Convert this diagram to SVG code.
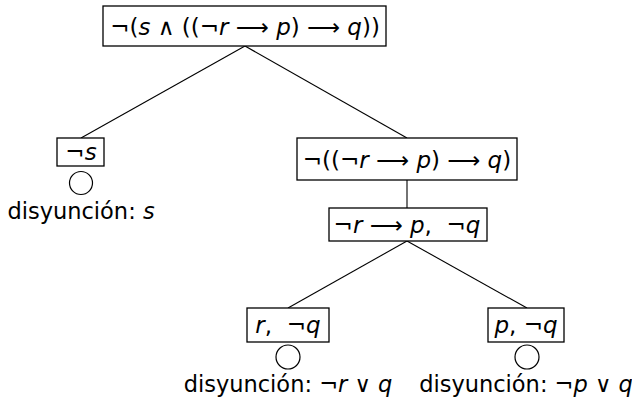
<svg xmlns="http://www.w3.org/2000/svg" width="632" height="401" viewBox="0 0 632 401">
<style>
  rect.b { fill: #fff; stroke: #000; stroke-width: 1.3; }
  .e line { stroke: #000; stroke-width: 1.1; }
  circle.c { fill: none; stroke: #000; stroke-width: 1.2; }
  text { font-family: "DejaVu Sans", sans-serif; font-size: 23px; fill: #000; text-anchor: middle; }
  text.d { font-size: 22.5px; }
  .v { font-style: italic; }
</style>
<rect width="632" height="401" fill="#fff"/>
<g id="edges" class="e">
  <line x1="245" y1="46" x2="81" y2="138"/>
  <line x1="245" y1="46" x2="407" y2="138"/>
  <line x1="407" y1="180" x2="407" y2="208"/>
  <line x1="407" y1="241" x2="288" y2="308"/>
  <line x1="407" y1="241" x2="527" y2="308"/>
</g>
<g id="n0">
  <rect class="b" x="103" y="6" width="283" height="40"/>
  <text x="245" y="35">¬(<tspan class="v">s</tspan> ∧ ((¬<tspan class="v">r</tspan> ⟶ <tspan class="v">p</tspan>) ⟶ <tspan class="v">q</tspan>))</text>
</g>
<g id="n1">
  <rect class="b" x="57" y="138" width="47" height="28"/>
  <text x="81" y="160">¬<tspan class="v">s</tspan></text>
  <circle class="c" cx="81" cy="183" r="11.5"/>
  <text class="d" x="81" y="219">disyunción: <tspan class="v">s</tspan></text>
</g>
<g id="n2">
  <rect class="b" x="297" y="138" width="220" height="42"/>
  <text x="407" y="168">¬((¬<tspan class="v">r</tspan> ⟶ <tspan class="v">p</tspan>) ⟶ <tspan class="v">q</tspan>)</text>
</g>
<g id="n3">
  <rect class="b" x="329" y="208" width="158" height="33"/>
  <text x="407" y="233" xml:space="preserve">¬<tspan class="v">r</tspan> ⟶ <tspan class="v">p</tspan>,  ¬<tspan class="v">q</tspan></text>
</g>
<g id="n4">
  <rect class="b" x="247" y="308" width="82" height="34"/>
  <text x="288" y="333" xml:space="preserve"><tspan class="v">r</tspan>,  ¬<tspan class="v">q</tspan></text>
  <circle class="c" cx="288" cy="357" r="12"/>
  <text class="d" x="288" y="392">disyunción: ¬<tspan class="v">r</tspan> ∨ <tspan class="v">q</tspan></text>
</g>
<g id="n5">
  <rect class="b" x="488" y="308" width="76" height="34"/>
  <text x="526" y="333"><tspan class="v">p</tspan>, ¬<tspan class="v">q</tspan></text>
  <circle class="c" cx="527" cy="357" r="12"/>
  <text class="d" x="526" y="392">disyunción: ¬<tspan class="v">p</tspan> ∨ <tspan class="v">q</tspan></text>
</g>
</svg>
